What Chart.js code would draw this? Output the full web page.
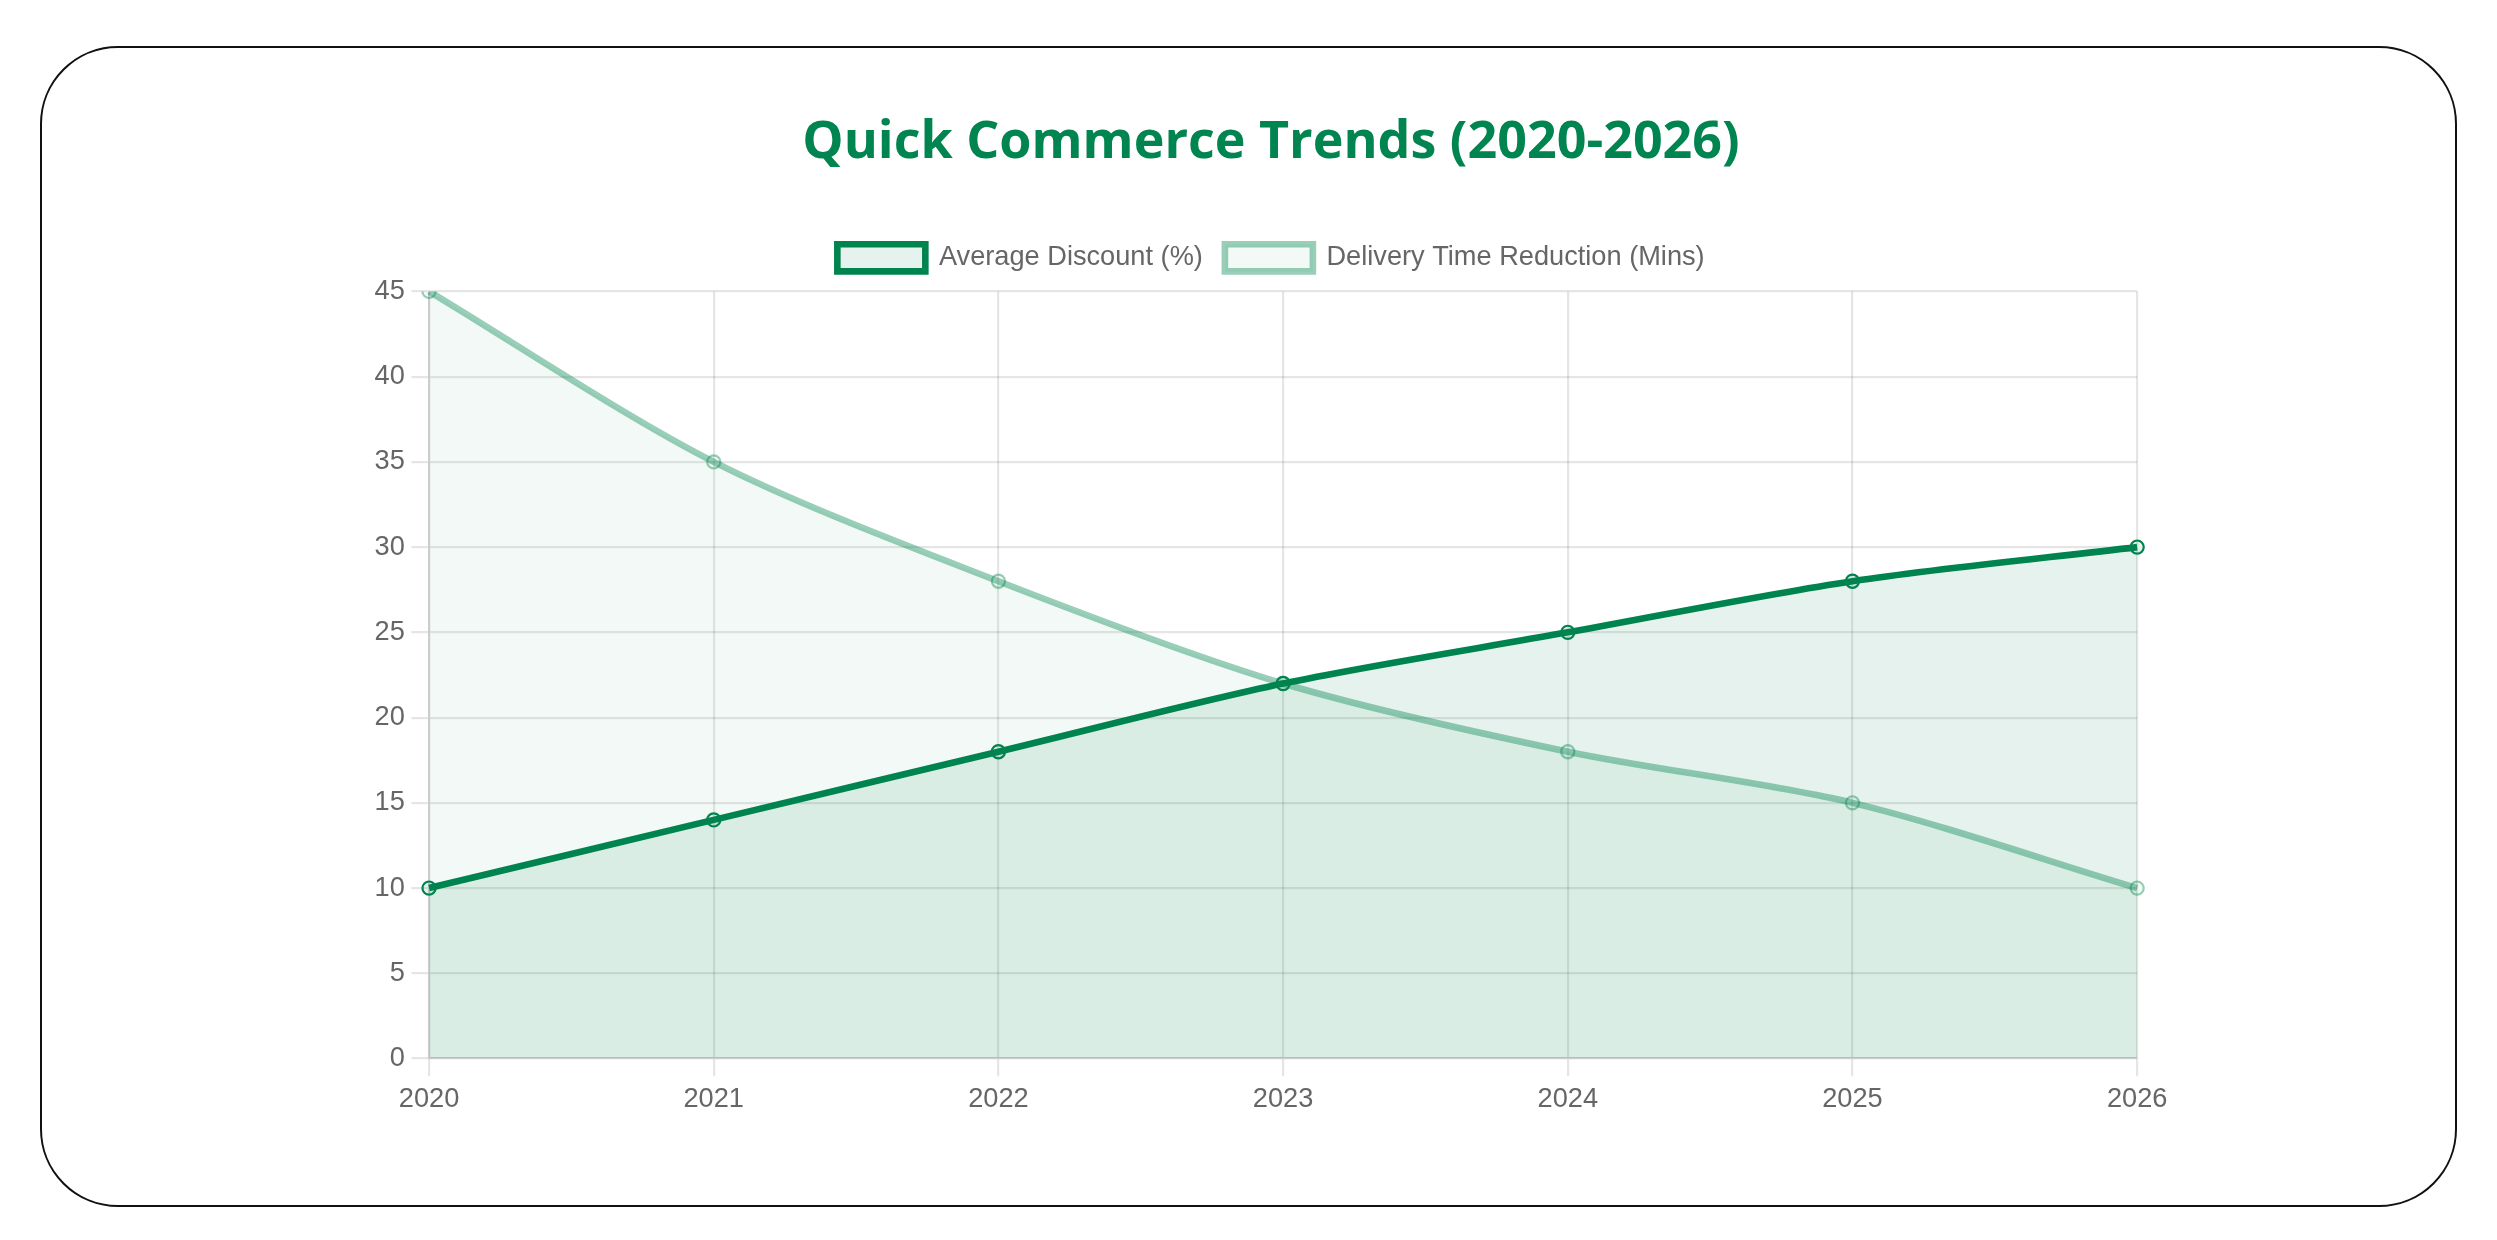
<!DOCTYPE html>
<html>
<head>
<meta charset="utf-8">
<title>Quick Commerce Trends</title>
<script src="https://cdn.jsdelivr.net/npm/chart.js@4.4.1/dist/chart.umd.min.js"></script>
<style>
    html, body { margin: 0; padding: 0; background: #fff; }
    body { width: 2497px; height: 1240px; position: relative; overflow: hidden; }
    .card {
        position: absolute;
        left: 40px; top: 46px;
        width: 2413px; height: 1157px;
        border: 2px solid #111;
        border-radius: 78px;
    }
    .chart-box {
        position: absolute;
        left: 368px; top: 104px;
        width: 1806px; height: 1018px;
    }
</style>
</head>
<body>
<div class="card"></div>
<div class="chart-box"><canvas id="trend-chart"></canvas></div>
<script>
    const years = ['2020', '2021', '2022', '2023', '2024', '2025', '2026'];
    const avgDiscount = [10, 14, 18, 22, 25, 28, 30];
    const deliveryReduction = [45, 35, 28, 22, 18, 15, 10];
    const seriesNames = ['Average Discount (%)', 'Delivery Time Reduction (Mins)'];

    // the reference looks like a default chart rendered at ~2.2x
    const k = 2.2;
    const fontSize = 27.2;
    Chart.defaults.font.size = fontSize;
    Chart.defaults.color = '#666';

    // a bit of extra room under the legend
    const legendGap = {
        id: 'legendGap',
        beforeInit(chart) {
            const fit = chart.legend.fit;
            chart.legend.fit = function () {
                fit.bind(chart.legend)();
                this.height += 10;
            };
        }
    };

    const ctx = document.getElementById('trend-chart').getContext('2d');

    new Chart(ctx, {
        type: 'line',
        data: {
            labels: years,
            datasets: [
                {
                    label: seriesNames[0],
                    data: avgDiscount,
                    borderColor: '#00844f',
                    backgroundColor: 'rgba(0, 132, 79, 0.1)',
                    borderWidth: 3 * k,
                    pointRadius: 3 * k,
                    pointBorderWidth: 1 * k,
                    fill: true,
                    tension: 0.3
                },
                {
                    label: seriesNames[1],
                    data: deliveryReduction,
                    borderColor: 'rgba(0, 132, 79, 0.4)',
                    backgroundColor: 'rgba(0, 132, 79, 0.05)',
                    borderWidth: 3 * k,
                    pointRadius: 3 * k,
                    pointBorderWidth: 1 * k,
                    fill: true,
                    tension: 0.3
                }
            ]
        },
        plugins: [legendGap],
        options: {
            responsive: true,
            maintainAspectRatio: false,
            animation: false,
            layout: { padding: 0 },
            plugins: {
                title: {
                    display: true,
                    text: 'Quick Commerce Trends (2020-2026)',
                    color: '#008450',
                    font: { family: 'Open Sans', weight: 'bold', size: 52 },
                    padding: { top: 8, bottom: 47.8 }
                },
                legend: {
                    labels: {
                        boxWidth: 40 * k,
                        padding: 10 * k,
                        font: { size: fontSize }
                    }
                },
                tooltip: { enabled: false }
            },
            scales: {
                x: {
                    grid: { lineWidth: 1 * k, tickLength: 8 * k },
                    border: { width: 1 * k },
                    ticks: { padding: 3 * k }
                },
                y: {
                    beginAtZero: true,
                    max: 45,
                    ticks: { stepSize: 5, padding: 3 * k },
                    grid: { lineWidth: 1 * k, tickLength: 8 * k },
                    border: { width: 1 * k }
                }
            }
        }
    });
</script>
</body>
</html>
